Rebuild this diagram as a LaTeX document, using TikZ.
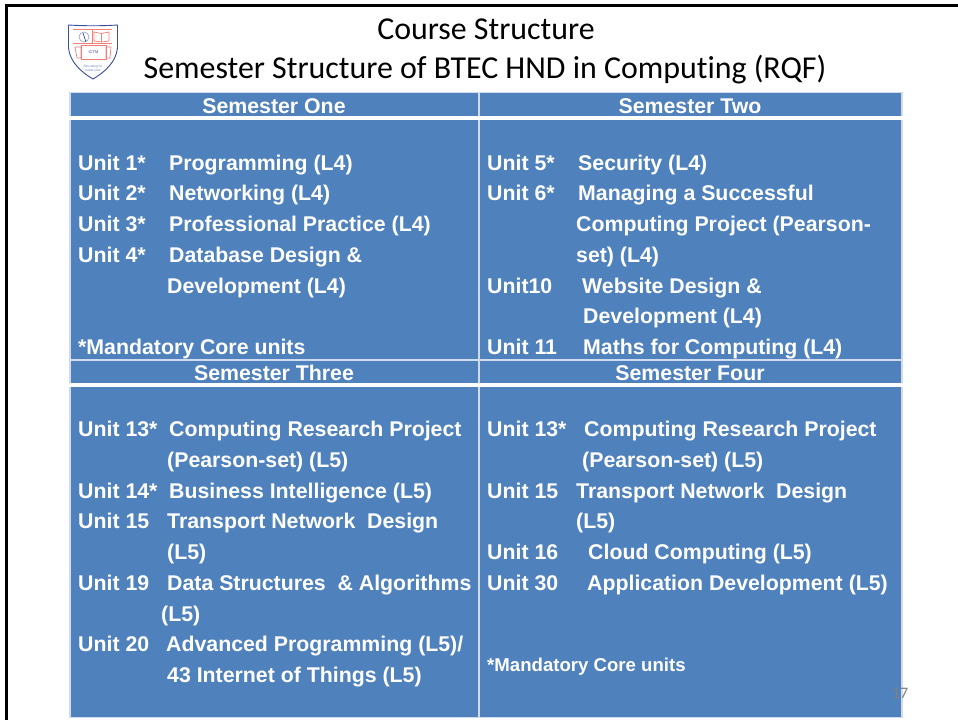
\documentclass[tikz,border=0pt]{standalone}
\usepackage{fontspec}
\setmainfont{Liberation Sans}
\newfontfamily\titlefont[Ligatures=CommonOff]{Carlito}
\definecolor{cellblue}{HTML}{4F81BD}
\definecolor{linepale}{HTML}{D0DCEE}
\definecolor{crestblue}{HTML}{3C4CA0}
\definecolor{crestred}{HTML}{F08078}
\tikzset{
  x=1pt,y=-1pt,
  txt/.style={anchor=base west,inner sep=0,text=white,font=\fontsize{21.3}{24}\selectfont\bfseries},
  hdr/.style={anchor=base,inner sep=0,text=white,font=\fontsize{21.3}{24}\selectfont\bfseries},
  ttl/.style={anchor=base,inner sep=0,text=black,font=\titlefont\fontsize{31.9}{34}\selectfont},
  cell/.style={fill=cellblue,draw=none},
  crest/.style={draw=crestred,line width=0.7pt},
}
\begin{document}
\begin{tikzpicture}
\useasboundingbox (0,0) rectangle (958,720);
\fill[white] (0,0) rectangle (958,720);
% slide frame
\fill[black] (5,4) rectangle (8,720);
\fill[black] (5,4) rectangle (958,7);
% table
\fill[linepale] (69,92) rectangle (903,718);
\fill[cell] (71,93) rectangle (477.5,116);
\fill[cell] (479.5,93) rectangle (901,116);
\fill[white] (69,116) rectangle (903,119.5);
\fill[cell] (71,119.5) rectangle (477.5,359);
\fill[cell] (479.5,119.5) rectangle (901,359);
\fill[cell] (71,360.5) rectangle (477.5,383);
\fill[cell] (479.5,360.5) rectangle (901,383);
\fill[white] (69,383) rectangle (903,386.5);
\fill[cell] (71,386.5) rectangle (477.5,717);
\fill[cell] (479.5,386.5) rectangle (901,717);
% crest
\draw[draw=crestblue,line width=0.9pt,fill=white] (68.5,25) .. controls (85,26) and (102,26) .. (117.5,25) -- (117.5,48) .. controls (116,62) and (105,72) .. (93,79) .. controls (81,72) and (70,62) .. (68.5,48) -- cycle;
\draw[crest] (73,29.5) -- (112,29.5) (73,43.5) -- (112,43.5);
\draw[crest] (92.5,30) -- (92.5,43);
\draw[crest] (94,32) -- (101.5,33.5) -- (109,32) -- (109,41) -- (101.5,42) -- (94,41) -- cycle (101.5,33.5) -- (101.5,42);
\draw[draw=crestblue!55,line width=0.6pt] (84,37) circle (5);
\draw[draw=crestblue,line width=0.7pt] (83,33) -- (86,42);
\draw[crest] (75,47) -- (81,47) -- (81,58) -- (77,58) -- cycle;
\draw[crest] (111,47) -- (106,47) -- (106,58) -- (110,58) -- cycle;
\draw[crest] (81,45.5) rectangle (106,59);
\node[inner sep=0,text=crestblue,font=\fontsize{4}{4}\selectfont] (crestname) at (93.5,52) {ICTM};
\node[inner sep=0,text=crestblue!70,align=center,font=\fontsize{3.2}{4}\selectfont] (crestmotto) at (93,69) {Educating for\\better jobs};
% title
\node[ttl] (title1) at (486,39) {Course Structure};
\node[ttl] (title2) at (485,78) {Semester Structure of BTEC HND in Computing (RQF)};
% headers
\node[hdr] (h1) at (274,113) {Semester One};
\node[hdr] (h2) at (690,113) {Semester Two};
\node[hdr] (h3) at (274,380) {Semester Three};
\node[hdr] (h4) at (690,380) {Semester Four};
% semester one
\node[txt] (a1) at (78,170) {Unit 1*};
\node[txt] (a1b) at (169,170) {Programming (L4)};
\node[txt] (a2) at (78,200) {Unit 2*};
\node[txt] (a2b) at (169,200) {Networking (L4)};
\node[txt] (a3) at (78,231) {Unit 3*};
\node[txt] (a3b) at (169,231) {Professional Practice (L4)};
\node[txt] (a4) at (78,262) {Unit 4*};
\node[txt] (a4b) at (169,262) {Database Design \&};
\node[txt] (a4c) at (167,293) {Development (L4)};
\node[txt] (a5) at (78,354) {*Mandatory Core units};
% semester two
\node[txt] (b1) at (487,170) {Unit 5*};
\node[txt] (b1b) at (578,170) {Security (L4)};
\node[txt] (b2) at (487,200) {Unit 6*};
\node[txt] (b2b) at (578,200) {Managing a Successful};
\node[txt] (b2c) at (576,231) {Computing Project (Pearson-};
\node[txt] (b2d) at (576,262) {set) (L4)};
\node[txt] (b3) at (487,293) {Unit10};
\node[txt] (b3b) at (582,293) {Website Design \&};
\node[txt] (b3c) at (583,323) {Development (L4)};
\node[txt] (b4) at (487,354) {Unit 11};
\node[txt] (b4b) at (583,354) {Maths for Computing (L4)};
% semester three
\node[txt] (c1) at (78,436) {Unit 13*};
\node[txt] (c1b) at (169,436) {Computing Research Project};
\node[txt] (c1c) at (167,467) {(Pearson-set) (L5)};
\node[txt] (c2) at (78,498) {Unit 14*};
\node[txt] (c2b) at (169,498) {Business Intelligence (L5)};
\node[txt] (c3) at (78,528) {Unit 15};
\node[txt] (c3b) at (167,528) {Transport Network\ \ Design};
\node[txt] (c3c) at (167,559) {(L5)};
\node[txt] (c4) at (78,590) {Unit 19};
\node[txt] (c4b) at (167,590) {Data Structures\ \ \& Algorithms};
\node[txt] (c4c) at (161,621) {(L5)};
\node[txt] (c5) at (78,651) {Unit 20};
\node[txt] (c5b) at (166,651) {Advanced Programming (L5)/};
\node[txt] (c5c) at (167,682) {43 Internet of Things (L5)};
% semester four
\node[txt] (d1) at (487,436) {Unit 13*};
\node[txt] (d1b) at (584,436) {Computing Research Project};
\node[txt] (d1c) at (582,467) {(Pearson-set) (L5)};
\node[txt] (d2) at (487,498) {Unit 15};
\node[txt] (d2b) at (576,498) {Transport Network\ \ Design};
\node[txt] (d2c) at (576,528) {(L5)};
\node[txt] (d3) at (487,559) {Unit 16};
\node[txt] (d3b) at (588,559) {Cloud Computing (L5)};
\node[txt] (d4) at (487,590) {Unit 30};
\node[txt] (d4b) at (587,590) {Application Development (L5)};
\node[txt,font=\fontsize{18.6}{20}\selectfont\bfseries] (d5) at (487,671) {*Mandatory Core units};
% page number
\node[anchor=base,inner sep=0,text=gray,font=\titlefont\fontsize{16}{18}\selectfont] (pg) at (900,698) {17};
\end{tikzpicture}
\end{document}
